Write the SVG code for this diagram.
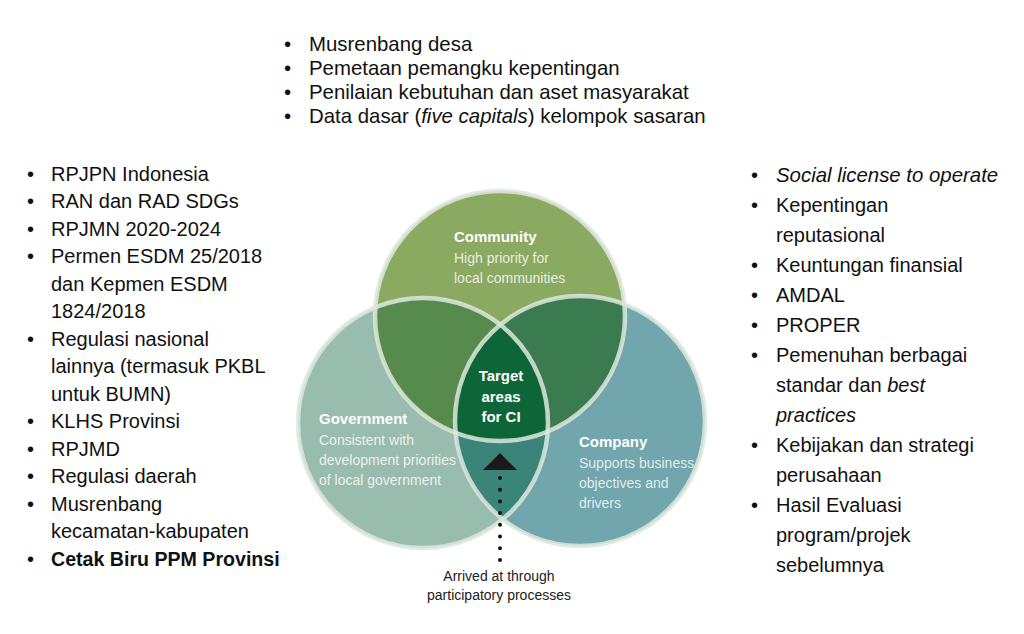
<svg xmlns="http://www.w3.org/2000/svg" width="1024" height="634" viewBox="0 0 1024 634">
<style>
.li{font-family:"Liberation Sans",Arial,sans-serif;font-size:20px;fill:#111}
.tp{font-size:20.4px}
.b{font-weight:bold}
.it{font-style:italic}
.vh{font-family:"Liberation Sans",Arial,sans-serif;font-size:15px;font-weight:bold;fill:#fff}
.vs{font-family:"Liberation Sans",Arial,sans-serif;font-size:14px;fill:#fff;fill-opacity:0.82}
.cap{font-family:"Liberation Sans",Arial,sans-serif;font-size:14px;fill:#222}
.ring{fill:none;stroke:#dde8dc;stroke-width:4.5;stroke-opacity:0.85}
</style>
<defs>
<clipPath id="cComm"><circle cx="500" cy="316" r="125"/></clipPath>
<clipPath id="cGov"><circle cx="423" cy="423" r="125"/></clipPath>
<clipPath id="cComp"><circle cx="580" cy="421" r="125"/></clipPath>
</defs>
<rect width="1024" height="634" fill="#fff"/>

<g id="top-list">
<text class="li tp" x="284" y="51">•</text><text class="li tp" x="309" y="51">Musrenbang desa</text>
<text class="li tp" x="284" y="75">•</text><text class="li tp" x="309" y="75">Pemetaan pemangku kepentingan</text>
<text class="li tp" x="284" y="99">•</text><text class="li tp" x="309" y="99">Penilaian kebutuhan dan aset masyarakat</text>
<text class="li tp" x="284" y="123">•</text><text class="li tp" x="309" y="123">Data dasar (<tspan class="it">five capitals</tspan>) kelompok sasaran</text>
</g>

<g id="left-list">
<text class="li" x="27" y="181">•</text><text class="li" x="51" y="181">RPJPN Indonesia</text>
<text class="li" x="27" y="208">•</text><text class="li" x="51" y="208">RAN dan RAD SDGs</text>
<text class="li" x="27" y="236">•</text><text class="li" x="51" y="236">RPJMN 2020-2024</text>
<text class="li" x="27" y="263">•</text><text class="li" x="51" y="263">Permen ESDM 25/2018</text>
<text class="li" x="51" y="291">dan Kepmen ESDM</text>
<text class="li" x="51" y="318">1824/2018</text>
<text class="li" x="27" y="346">•</text><text class="li" x="51" y="346">Regulasi nasional</text>
<text class="li" x="51" y="373">lainnya (termasuk PKBL</text>
<text class="li" x="51" y="401">untuk BUMN)</text>
<text class="li" x="27" y="428">•</text><text class="li" x="51" y="428">KLHS Provinsi</text>
<text class="li" x="27" y="456">•</text><text class="li" x="51" y="456">RPJMD</text>
<text class="li" x="27" y="483">•</text><text class="li" x="51" y="483">Regulasi daerah</text>
<text class="li" x="27" y="511">•</text><text class="li" x="51" y="511">Musrenbang</text>
<text class="li" x="51" y="538">kecamatan-kabupaten</text>
<text class="li" x="27" y="566">•</text><text class="li b" x="51" y="566" style="font-size:19.6px">Cetak Biru PPM Provinsi</text>
</g>

<g id="right-list">
<text class="li" x="751" y="182">•</text><text class="li it" x="776" y="182" style="font-size:20.4px">Social license to operate</text>
<text class="li" x="751" y="212">•</text><text class="li" x="776" y="212">Kepentingan</text>
<text class="li" x="776" y="242">reputasional</text>
<text class="li" x="751" y="272">•</text><text class="li" x="776" y="272">Keuntungan finansial</text>
<text class="li" x="751" y="302">•</text><text class="li" x="776" y="302">AMDAL</text>
<text class="li" x="751" y="332">•</text><text class="li" x="776" y="332">PROPER</text>
<text class="li" x="751" y="362">•</text><text class="li" x="776" y="362">Pemenuhan berbagai</text>
<text class="li" x="776" y="392">standar dan <tspan class="it">best</tspan></text>
<text class="li it" x="776" y="422">practices</text>
<text class="li" x="751" y="452">•</text><text class="li" x="776" y="452">Kebijakan dan strategi</text>
<text class="li" x="776" y="482">perusahaan</text>
<text class="li" x="751" y="512">•</text><text class="li" x="776" y="512">Hasil Evaluasi</text>
<text class="li" x="776" y="542">program/projek</text>
<text class="li" x="776" y="572">sebelumnya</text>
</g>

<g id="venn-fills">
<circle cx="423" cy="423" r="125" fill="#98bcae"/>
<circle cx="580" cy="421" r="125" fill="#70a6ac"/>
<circle cx="500" cy="316" r="125" fill="#8aaa62"/>
<circle cx="423" cy="423" r="125" fill="#578a4d" clip-path="url(#cComm)"/>
<circle cx="580" cy="421" r="125" fill="#3a7b4f" clip-path="url(#cComm)"/>
<circle cx="580" cy="421" r="125" fill="#3a8479" clip-path="url(#cGov)"/>
<g clip-path="url(#cComm)"><circle cx="580" cy="421" r="125" fill="#0e6537" clip-path="url(#cGov)"/></g>
</g>
<g id="venn-rings">
<circle class="ring" cx="423" cy="423" r="125"/>
<circle class="ring" cx="580" cy="421" r="125"/>
<circle class="ring" cx="500" cy="316" r="125"/>
</g>

<g id="community">
<text class="vh" x="454" y="242">Community</text>
<text class="vs" x="454" y="263">High priority for</text>
<text class="vs" x="454" y="283">local communities</text>
</g>
<g id="government">
<text class="vh" x="319" y="424">Government</text>
<text class="vs" x="319" y="445">Consistent with</text>
<text class="vs" x="319" y="465">development priorities</text>
<text class="vs" x="319" y="485">of local government</text>
</g>
<g id="company">
<text class="vh" x="579" y="447">Company</text>
<text class="vs" x="579" y="468">Supports business</text>
<text class="vs" x="579" y="488">objectives and</text>
<text class="vs" x="579" y="508">drivers</text>
</g>
<g id="target">
<text class="vh" x="501" y="381" text-anchor="middle">Target</text>
<text class="vh" x="501" y="402" text-anchor="middle">areas</text>
<text class="vh" x="501" y="422" text-anchor="middle">for CI</text>
</g>

<g id="connectors">
<line x1="500" y1="478" x2="500" y2="560" stroke="#111" stroke-width="4" stroke-linecap="round" stroke-dasharray="0 11.7"/>
<polygon points="500,453 517,470 483,470" fill="#1a1a1a"/>
</g>

<g id="caption">
<text class="cap" x="499" y="581" text-anchor="middle">Arrived at through</text>
<text class="cap" x="499" y="600" text-anchor="middle">participatory processes</text>
</g>
</svg>
